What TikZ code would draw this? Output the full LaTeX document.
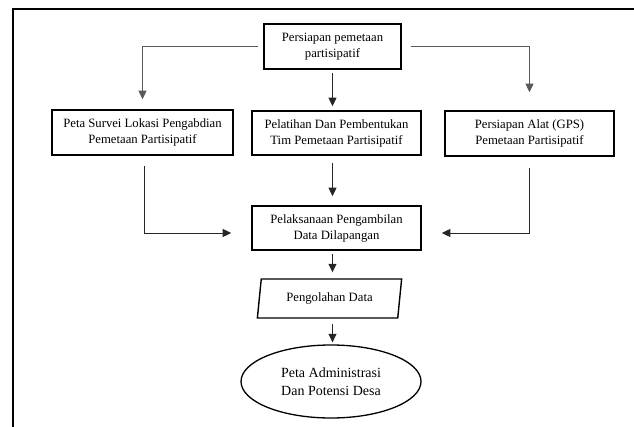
\documentclass[tikz,border=0pt]{standalone}
\usepackage{fontspec}
\setmainfont{Liberation Serif}
\usepackage{tikz}
\usetikzlibrary{arrows.meta}
\usetikzlibrary{positioning,shapes.geometric}

\begin{document}
\begin{tikzpicture}[
		x=1pt, y=-1pt,
		MyBoxes/.style={draw=black, line width=1.6pt, align=center, inner sep=0pt,
			font=\fontsize{12.7}{16}\selectfont},
		MyArrows/.style={draw=black!85, line width=0.9pt, -{Triangle[length=8.5pt, width=8pt]}},
		every node/.style={scale=1}
		]
		
		\useasboundingbox (0,0) rectangle (634,427);
		
		% outer frame, cut by the page edge
		\draw[line width=2.7pt] (13,440) -- (13,9) -- (650,9);
		
		\node[MyBoxes, minimum width=137pt, minimum height=45pt] (persiapan) at (332.5,46.5) {Persiapan pemetaan\\partisipatif};
		
		\node[MyBoxes, minimum width=181pt, minimum height=45pt] (survei) at (142.5,132.5) {Peta Survei Lokasi Pengabdian\\Pemetaan Partisipatif};
		\node[MyBoxes, minimum width=169pt, minimum height=44pt] (pelatihan) at (336.5,133) {Pelatihan Dan Pembentukan\\Tim Pemetaan Partisipatif};
		\node[MyBoxes, minimum width=169pt, minimum height=45pt] (alat) at (529.5,133.5) {Persiapan Alat (GPS)\\Pemetaan Partisipatif};
		
		\node[MyBoxes, minimum width=169pt, minimum height=44pt] (pelaksanaan) at (336.5,228) {Pelaksanaan Pengambilan\\Data Dilapangan};
		
		\node[MyBoxes, line width=1.4pt, trapezium, trapezium left angle=78, trapezium right angle=102,
			trapezium stretches=true, minimum width=145pt, minimum height=39pt] (pengolahan) at (329.5,298.5) {Pengolahan Data};
		
		\node[MyBoxes, line width=1.3pt, ellipse, minimum width=180pt, minimum height=73pt,
			font=\fontsize{14}{18}\selectfont] (hasil) at (331,381.5) {Peta Administrasi\\Dan Potensi Desa};
		
		% branches
		\draw[MyArrows, draw=black!65, shorten <=5pt, shorten >=10pt] (persiapan.west) -| (survei.north);
		\draw[MyArrows, draw=black!65, shorten <=9pt, shorten >=18pt] (persiapan.east) -| (alat.north);
		\draw[MyArrows, shorten <=3pt, shorten >=4pt] (persiapan.south) -- (persiapan.south |- pelatihan.north);
		
		\draw[MyArrows, shorten <=10pt, shorten >=20pt] ([xshift=1.5pt]survei.south) |- ([yshift=-5pt]pelaksanaan.west);
		\draw[MyArrows, shorten <=11pt, shorten >=20pt] (alat.south) |- ([yshift=-5pt]pelaksanaan.east);
		\draw[MyArrows, shorten <=7pt, shorten >=9pt] (persiapan.south |- pelatihan.south) -- (persiapan.south |- pelaksanaan.north);
		
		\draw[MyArrows, shorten <=3pt, shorten >=6pt] (persiapan.south |- pelaksanaan.south) -- (persiapan.south |- pengolahan.north);
		\draw[MyArrows, shorten <=5pt, shorten >=2pt] (persiapan.south |- pengolahan.south) -- (persiapan.south |- hasil.north);
		
\end{tikzpicture}
\end{document}
